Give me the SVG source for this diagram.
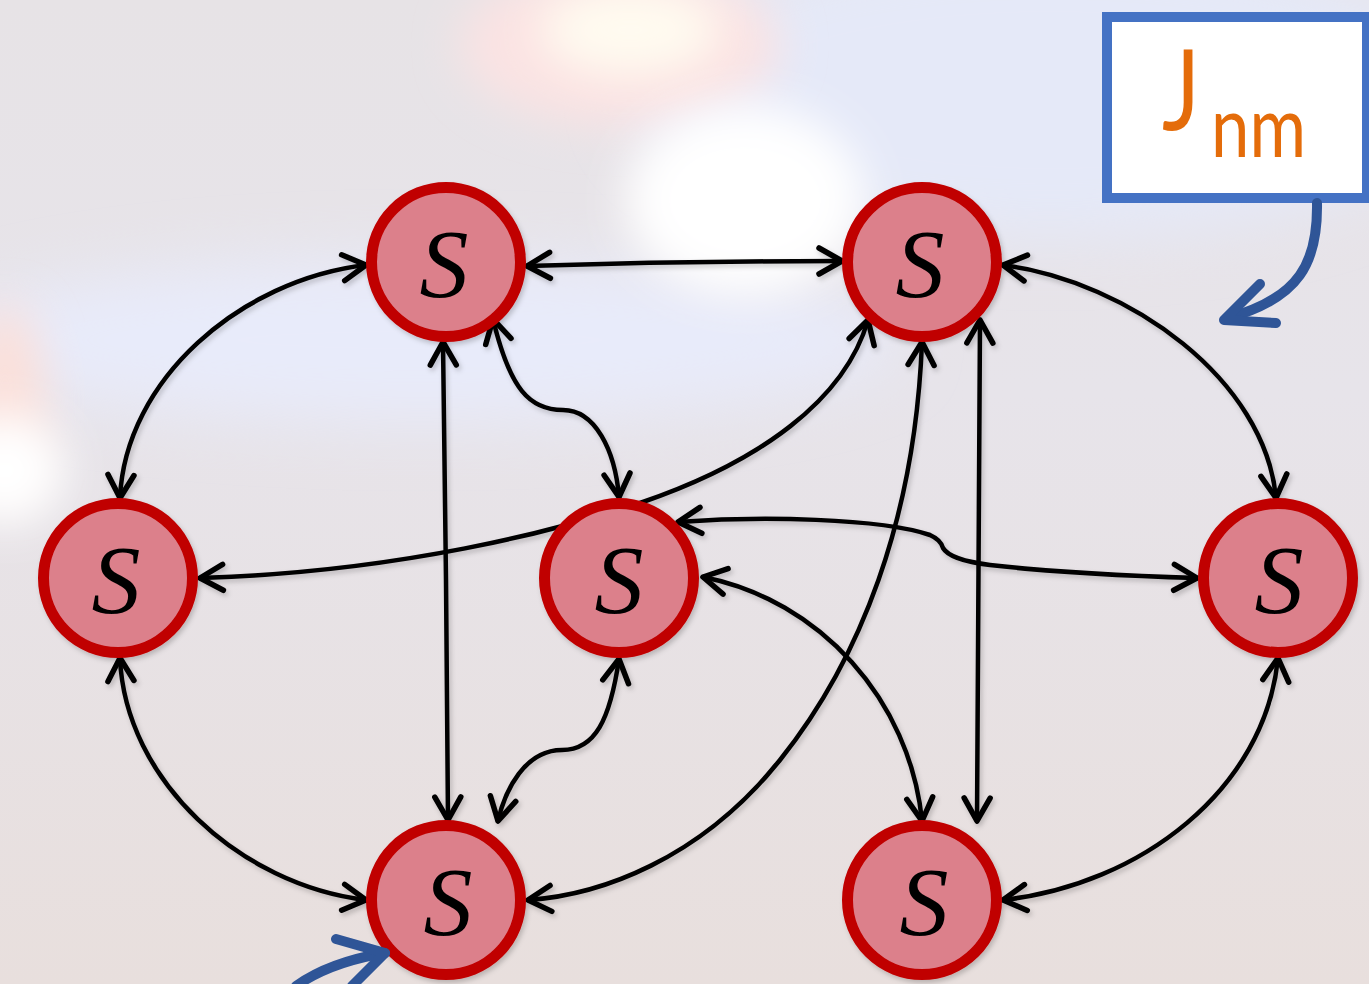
<svg xmlns="http://www.w3.org/2000/svg" width="1369" height="984" viewBox="0 0 1369 984">
  <defs>
    <style>
      .node circle { fill: #dc808b; stroke: #c00000; stroke-width: 11; }
      .node text { font-family: "Liberation Serif", "DejaVu Serif", serif; font-style: italic; font-size: 98px; fill: #000; text-anchor: middle; }
      .edge { fill: none; stroke: #000; stroke-width: 4.5; stroke-linecap: round; marker-start: url(#head); marker-end: url(#head); }
      .pointer { fill: none; stroke: #2f5597; stroke-width: 10; stroke-linecap: round; stroke-linejoin: round; }
      .label { font-family: Lato, "Open Sans", "Liberation Sans", sans-serif; fill: #e46c0a; }
    </style>
    <marker id="head" viewBox="-30 -20 40 40" markerWidth="40" markerHeight="40" refX="0" refY="0" orient="auto-start-reverse" markerUnits="userSpaceOnUse" overflow="visible">
      <path d="M -23 -13 L 0 0 L -23 13" fill="none" stroke="#000" stroke-width="5.5" stroke-linecap="round" stroke-linejoin="round"/>
    </marker>
    <filter id="shadow" x="-10%" y="-10%" width="120%" height="120%">
      <feDropShadow dx="2" dy="3" stdDeviation="2.5" flood-color="#000" flood-opacity="0.2"/>
    </filter>
    <filter id="haze" x="-50%" y="-50%" width="200%" height="200%">
      <feGaussianBlur stdDeviation="30"/>
    </filter>
    <filter id="haze2" x="-50%" y="-50%" width="200%" height="200%">
      <feGaussianBlur stdDeviation="22"/>
    </filter>
    <linearGradient id="bg" x1="0" y1="0" x2="0" y2="1">
      <stop offset="0" stop-color="#e7e3e6"/>
      <stop offset="0.4" stop-color="#e7e4ea"/>
      <stop offset="1" stop-color="#e8dfdd"/>
    </linearGradient>
  </defs>

  <!-- backdrop -->
  <rect x="0" y="0" width="1369" height="984" fill="url(#bg)"/>
  <g id="backdrop-light">
    <ellipse cx="1050" cy="90" rx="420" ry="150" fill="#e5e9f8" filter="url(#haze)"/>
    <ellipse cx="420" cy="340" rx="480" ry="80" fill="#e8ebfa" filter="url(#haze)"/>
    <ellipse cx="620" cy="45" rx="160" ry="80" fill="#fbe3e3" filter="url(#haze2)"/>
    <ellipse cx="630" cy="30" rx="90" ry="45" fill="#fffbf0" filter="url(#haze2)"/>
    <ellipse cx="745" cy="200" rx="120" ry="95" fill="#ffffff" filter="url(#haze2)"/>
    <ellipse cx="5" cy="400" rx="40" ry="95" fill="#fbe0da" filter="url(#haze2)"/>
    <ellipse cx="5" cy="470" rx="60" ry="55" fill="#ffffff" filter="url(#haze2)"/>
  </g>

  <!-- connectors -->
  <g id="connectors" filter="url(#shadow)">
    <path class="edge" d="M 527 266 Q 685 261 842 261"/>
    <path class="edge" d="M 366 265 C 240 280 125 380 120 498"/>
    <path class="edge" d="M 1003 265 C 1130 282 1265 380 1276 498"/>
    <path class="edge" d="M 120 658 C 125 780 240 885 366 900"/>
    <path class="edge" d="M 1278 658 C 1265 790 1140 885 1003 900"/>
    <path class="edge" d="M 443 342 L 446 580 L 448 820"/>
    <path class="edge" d="M 493 319 C 510 390 530 410 563 410 C 595 410 615 450 619 497"/>
    <path class="edge" d="M 619 659 C 610 720 595 750 562 750 C 525 750 505 790 498 821"/>
    <path class="edge" d="M 200 578 C 400 572 560 530 640 503 C 760 462 845 400 868 320"/>
    <path class="edge" d="M 922 342 C 915 520 860 660 780 760 C 700 860 600 895 528 900"/>
    <path class="edge" d="M 980 320 L 977 821"/>
    <path class="edge" d="M 678 522 C 760 516 880 518 930 535 Q 941 540 943 548 Q 950 560 990 565 C 1060 573 1130 576 1197 578"/>
    <path class="edge" d="M 703 577 C 820 600 910 700 922 821"/>
  </g>

  <!-- nodes -->
  <g id="node-tl" class="node" filter="url(#shadow)">
    <circle cx="446" cy="262" r="74.5"/>
    <text x="444" y="297">S</text>
  </g>
  <g id="node-tr" class="node" filter="url(#shadow)">
    <circle cx="922" cy="262" r="74.5"/>
    <text x="920" y="297">S</text>
  </g>
  <g id="node-ml" class="node" filter="url(#shadow)">
    <circle cx="118" cy="578" r="74.5"/>
    <text x="116" y="613">S</text>
  </g>
  <g id="node-mc" class="node" filter="url(#shadow)">
    <circle cx="619" cy="578" r="74.5"/>
    <text x="619" y="613">S</text>
  </g>
  <g id="node-mr" class="node" filter="url(#shadow)">
    <circle cx="1278" cy="578" r="74.5"/>
    <text x="1279" y="613">S</text>
  </g>
  <g id="node-bl" class="node" filter="url(#shadow)">
    <circle cx="446" cy="900" r="74.5"/>
    <text x="448" y="935">S</text>
  </g>
  <g id="node-br" class="node" filter="url(#shadow)">
    <circle cx="922" cy="900" r="74.5"/>
    <text x="924" y="935">S</text>
  </g>

  <!-- coupling label -->
  <g id="label-jnm">
    <rect x="1107" y="17" width="260" height="181" fill="#ffffff" stroke="#4472c4" stroke-width="10"/>
    <text class="label" x="1162" y="130" font-size="112" textLength="38" lengthAdjust="spacingAndGlyphs">J</text>
    <text class="label" x="1211" y="157" font-size="86" textLength="95" lengthAdjust="spacingAndGlyphs">nm</text>
  </g>

  <!-- pointers -->
  <g id="pointer-label">
    <path class="pointer" d="M 1317 203 C 1318 262 1300 298 1228 318"/>
    <path class="pointer" d="M 1260 284 L 1224 320 L 1276 323"/>
  </g>
  <g id="pointer-node">
    <path class="pointer" d="M 296 986 Q 330 962 385 953"/>
    <path class="pointer" d="M 336 939 L 385 953 L 352 986"/>
  </g>
</svg>
